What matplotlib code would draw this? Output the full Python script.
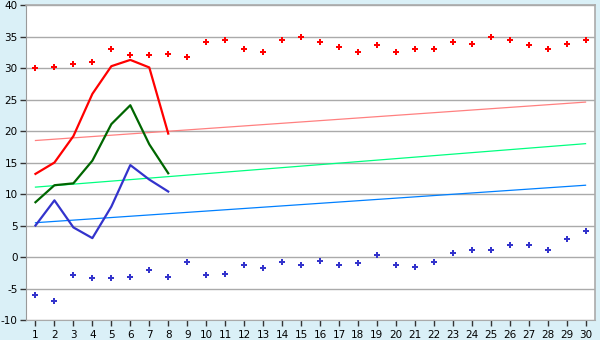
import matplotlib
matplotlib.use('Agg')
import matplotlib.pyplot as plt

plt.rcParams['axes.unicode_minus'] = False

# Dagen
dagen = list(range(1, 31))

# Maxima (rode punten) en minima (blauwe punten)
max_punten = [30.0, 30.2, 30.6, 30.9, 33.1, 32.0, 32.0, 32.2, 31.7, 34.2,
              34.5, 33.0, 32.6, 34.4, 34.9, 34.1, 33.3, 32.5, 33.6, 32.6,
              33.0, 33.1, 34.1, 33.8, 35.0, 34.4, 33.6, 33.0, 33.8, 34.4]
min_punten = [-6.1, -7.0, -2.9, -3.4, -3.4, -3.1, -2.1, -3.2, -0.8, -2.9,
              -2.7, -1.2, -1.8, -0.8, -1.2, -0.7, -1.2, -1.0, 0.4, -1.2,
              -1.6, -0.8, 0.6, 1.1, 1.1, 1.9, 1.9, 1.1, 2.8, 4.1]

# Eerste 8 dagen
dagen_kort = list(range(1, 9))
rood = [13.2, 15.0, 19.2, 25.9, 30.3, 31.3, 30.1, 19.6]
groen = [8.7, 11.4, 11.7, 15.3, 21.1, 24.1, 17.9, 13.3]
blauw = [5.0, 9.0, 4.7, 3.0, 8.0, 14.6, 12.3, 10.4]

# Trendlijnen (begin en eind)
trend_x = [1, 30]
trend_rood = [18.5, 24.6]
trend_groen = [11.1, 18.0]
trend_blauw = [5.45, 11.4]

fig = plt.figure(figsize=(6, 3.4), dpi=100)
fig.patch.set_facecolor('#DAF0F7')
ax = fig.add_axes([0.0433, 0.0588, 0.9484, 0.9262])
ax.set_facecolor('white')

ax.set_xlim(0.5, 30.5)
ax.set_ylim(-10, 40)
ax.set_yticks(range(-10, 41, 5))
ax.set_xticks(dagen)
ax.grid(axis='y', color='#AAAAAA', linewidth=1.0)
ax.set_axisbelow(True)

ax.plot(trend_x, trend_rood, color='#FF8080', linewidth=0.9)
ax.plot(trend_x, trend_groen, color='#00FF80', linewidth=0.9)
ax.plot(trend_x, trend_blauw, color='#0080FF', linewidth=0.9)

ax.plot(dagen_kort, rood, color='#FF0000', linewidth=1.6)
ax.plot(dagen_kort, groen, color='#006600', linewidth=1.6)
ax.plot(dagen_kort, blauw, color='#3333CC', linewidth=1.6)

ax.plot(dagen, max_punten, linestyle='none', marker='P', markersize=5,
        color='#FF0000', markeredgewidth=0)
ax.plot(dagen, min_punten, linestyle='none', marker='P', markersize=5,
        color='#3333CC', markeredgewidth=0)

for kant in ['top', 'right']:
    ax.spines[kant].set_color('#AAAAAA')
    ax.spines[kant].set_linewidth(1.2)
ax.spines['left'].set_color('#999999')
ax.spines['bottom'].set_color('#AAAAAA')

ax.tick_params(axis='both', labelsize=7.5, colors='#333333', length=4, width=1, pad=2)
ax.tick_params(axis='x', pad=3)
for lbl in ax.get_xticklabels() + ax.get_yticklabels():
    lbl.set_color('black')

fig.savefig('out.png', dpi=100, facecolor=fig.get_facecolor())
